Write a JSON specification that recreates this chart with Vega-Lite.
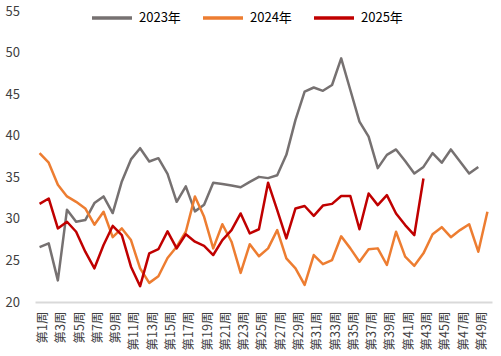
{
  "$schema": "https://vega.github.io/schema/vega-lite/v6.json",
  "width": 457,
  "height": 291,
  "autosize": {"type": "none"},
  "padding": {"left": 35, "top": 11, "right": 9, "bottom": 54},
  "background": "white",
  "config": {
    "view": {"stroke": null},
    "font": "Noto Sans CJK SC"
  },
  "data": {
    "values": [
      {"n":1,"year":"2023年","value":26.6},{"n":2,"year":"2023年","value":27.05},{"n":3,"year":"2023年","value":22.6},{"n":4,"year":"2023年","value":31.1},{"n":5,"year":"2023年","value":29.65},{"n":6,"year":"2023年","value":29.85},{"n":7,"year":"2023年","value":31.9},{"n":8,"year":"2023年","value":32.7},{"n":9,"year":"2023年","value":30.7},{"n":10,"year":"2023年","value":34.5},
      {"n":11,"year":"2023年","value":37.15},{"n":12,"year":"2023年","value":38.5},{"n":13,"year":"2023年","value":36.9},{"n":14,"year":"2023年","value":37.3},{"n":15,"year":"2023年","value":35.4},{"n":16,"year":"2023年","value":32.05},{"n":17,"year":"2023年","value":33.9},{"n":18,"year":"2023年","value":30.9},{"n":19,"year":"2023年","value":31.7},{"n":20,"year":"2023年","value":34.35},
      {"n":21,"year":"2023年","value":34.2},{"n":22,"year":"2023年","value":34.0},{"n":23,"year":"2023年","value":33.8},{"n":24,"year":"2023年","value":34.45},{"n":25,"year":"2023年","value":35.05},{"n":26,"year":"2023年","value":34.9},{"n":27,"year":"2023年","value":35.25},{"n":28,"year":"2023年","value":37.7},{"n":29,"year":"2023年","value":41.9},{"n":30,"year":"2023年","value":45.3},
      {"n":31,"year":"2023年","value":45.8},{"n":32,"year":"2023年","value":45.4},{"n":33,"year":"2023年","value":46.1},{"n":34,"year":"2023年","value":49.3},{"n":35,"year":"2023年","value":45.5},{"n":36,"year":"2023年","value":41.7},{"n":37,"year":"2023年","value":39.9},{"n":38,"year":"2023年","value":36.1},{"n":39,"year":"2023年","value":37.7},{"n":40,"year":"2023年","value":38.35},
      {"n":41,"year":"2023年","value":36.95},{"n":42,"year":"2023年","value":35.45},{"n":43,"year":"2023年","value":36.25},{"n":44,"year":"2023年","value":37.9},{"n":45,"year":"2023年","value":36.75},{"n":46,"year":"2023年","value":38.35},{"n":47,"year":"2023年","value":36.9},{"n":48,"year":"2023年","value":35.45},{"n":49,"year":"2023年","value":36.25},
      {"n":1,"year":"2024年","value":37.9},{"n":2,"year":"2024年","value":36.75},{"n":3,"year":"2024年","value":34.1},{"n":4,"year":"2024年","value":32.7},{"n":5,"year":"2024年","value":32.05},{"n":6,"year":"2024年","value":31.25},{"n":7,"year":"2024年","value":29.3},{"n":8,"year":"2024年","value":30.85},{"n":9,"year":"2024年","value":27.8},{"n":10,"year":"2024年","value":28.85},
      {"n":11,"year":"2024年","value":27.45},{"n":12,"year":"2024年","value":24.05},{"n":13,"year":"2024年","value":22.3},{"n":14,"year":"2024年","value":23.1},{"n":15,"year":"2024年","value":25.3},{"n":16,"year":"2024年","value":26.65},{"n":17,"year":"2024年","value":28.45},{"n":18,"year":"2024年","value":32.7},{"n":19,"year":"2024年","value":30.25},{"n":20,"year":"2024年","value":26.45},
      {"n":21,"year":"2024年","value":29.35},{"n":22,"year":"2024年","value":27.25},{"n":23,"year":"2024年","value":23.5},{"n":24,"year":"2024年","value":26.95},{"n":25,"year":"2024年","value":25.5},{"n":26,"year":"2024年","value":26.45},{"n":27,"year":"2024年","value":28.65},{"n":28,"year":"2024年","value":25.25},{"n":29,"year":"2024年","value":24.05},{"n":30,"year":"2024年","value":22.05},
      {"n":31,"year":"2024年","value":25.65},{"n":32,"year":"2024年","value":24.55},{"n":33,"year":"2024年","value":25.05},{"n":34,"year":"2024年","value":27.9},{"n":35,"year":"2024年","value":26.45},{"n":36,"year":"2024年","value":24.85},{"n":37,"year":"2024年","value":26.35},{"n":38,"year":"2024年","value":26.45},{"n":39,"year":"2024年","value":24.45},{"n":40,"year":"2024年","value":28.45},
      {"n":41,"year":"2024年","value":25.45},{"n":42,"year":"2024年","value":24.35},{"n":43,"year":"2024年","value":25.85},{"n":44,"year":"2024年","value":28.15},{"n":45,"year":"2024年","value":29.0},{"n":46,"year":"2024年","value":27.8},{"n":47,"year":"2024年","value":28.65},{"n":48,"year":"2024年","value":29.35},{"n":49,"year":"2024年","value":26.05},{"n":50,"year":"2024年","value":30.85},
      {"n":1,"year":"2025年","value":31.8},{"n":2,"year":"2025年","value":32.45},{"n":3,"year":"2025年","value":28.85},{"n":4,"year":"2025年","value":29.65},{"n":5,"year":"2025年","value":28.45},{"n":6,"year":"2025年","value":26.05},{"n":7,"year":"2025年","value":24.05},{"n":8,"year":"2025年","value":26.85},{"n":9,"year":"2025年","value":29.15},{"n":10,"year":"2025年","value":28.05},
      {"n":11,"year":"2025年","value":24.25},{"n":12,"year":"2025年","value":21.9},{"n":13,"year":"2025年","value":25.85},{"n":14,"year":"2025年","value":26.35},{"n":15,"year":"2025年","value":28.5},{"n":16,"year":"2025年","value":26.45},{"n":17,"year":"2025年","value":28.15},{"n":18,"year":"2025年","value":27.25},{"n":19,"year":"2025年","value":26.75},{"n":20,"year":"2025年","value":25.65},
      {"n":21,"year":"2025年","value":27.45},{"n":22,"year":"2025年","value":28.65},{"n":23,"year":"2025年","value":30.65},{"n":24,"year":"2025年","value":28.25},{"n":25,"year":"2025年","value":28.75},{"n":26,"year":"2025年","value":34.35},{"n":27,"year":"2025年","value":31.05},{"n":28,"year":"2025年","value":27.65},{"n":29,"year":"2025年","value":31.25},{"n":30,"year":"2025年","value":31.55},
      {"n":31,"year":"2025年","value":30.35},{"n":32,"year":"2025年","value":31.6},{"n":33,"year":"2025年","value":31.8},{"n":34,"year":"2025年","value":32.75},{"n":35,"year":"2025年","value":32.75},{"n":36,"year":"2025年","value":28.75},{"n":37,"year":"2025年","value":33.05},{"n":38,"year":"2025年","value":31.65},{"n":39,"year":"2025年","value":32.85},{"n":40,"year":"2025年","value":30.65},
      {"n":41,"year":"2025年","value":29.25},{"n":42,"year":"2025年","value":28.05},{"n":43,"year":"2025年","value":34.85}
    ]
  },
  "mark": {"type": "line", "strokeWidth": 2.5, "strokeJoin": "round"},
  "encoding": {
    "x": {
      "field": "n",
      "type": "quantitative",
      "scale": {"domain": [0.5, 50.5], "nice": false, "zero": false},
      "axis": {
        "title": null,
        "values": [1,3,5,7,9,11,13,15,17,19,21,23,25,27,29,31,33,35,37,39,41,43,45,47,49],
        "labelExpr": "'第' + datum.value + '周'",
        "labelAngle": -90,
        "labelAlign": "right",
        "labelBaseline": "middle",
        "labelPadding": 9,
        "labelOffset": 3,
        "labelFontSize": 12.5,
        "labelColor": "#404040",
        "labelOverlap": false,
        "ticks": false,
        "tickSize": 0,
        "grid": false,
        "domainColor": "#d9d9d9",
        "domainWidth": 2
      }
    },
    "y": {
      "field": "value",
      "type": "quantitative",
      "scale": {"domain": [20, 55], "nice": false, "zero": false},
      "axis": {
        "title": null,
        "values": [20,25,30,35,40,45,50,55],
        "grid": false,
        "domain": false,
        "ticks": false,
        "tickSize": 0,
        "labelAlign": "left",
        "labelPadding": 30,
        "labelFontSize": 13,
        "labelColor": "#404040"
      }
    },
    "color": {
      "field": "year",
      "type": "nominal",
      "scale": {"domain": ["2023年","2024年","2025年"], "range": ["#767171","#ED7D31","#C00000"]},
      "legend": {
        "title": null,
        "orient": "none",
        "direction": "horizontal",
        "legendX": 55,
        "legendY": -15,
        "symbolType": "stroke",
        "symbolSize": 1600,
        "symbolStrokeWidth": 3.5,
        "labelFontSize": 13,
        "labelColor": "#000000",
        "labelOffset": 5,
        "columnPadding": 15
      }
    },
    "order": {"field": "n", "type": "quantitative"}
  }
}
